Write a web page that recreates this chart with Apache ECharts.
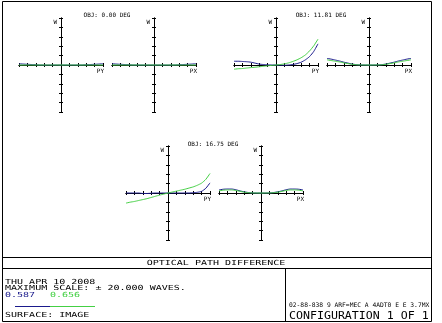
<!DOCTYPE html>
<html>
<head>
<meta charset="utf-8">
<script src="https://cdn.jsdelivr.net/npm/echarts@6/dist/echarts.min.js"></script>
<style>
html,body{margin:0;padding:0;background:#fff;}
#chart{width:442px;height:323px;}
</style>
</head>
<body>
<div id="chart"></div>
<script>
// Normalized pupil coordinate (PY / PX)
const pupil = [-1,-0.9,-0.8,-0.7,-0.6,-0.5,-0.4,-0.3,-0.2,-0.1,0,0.1,0.2,0.3,0.4,0.5,0.6,0.7,0.8,0.9,1];
const fieldTitles = ['OBJ: 0.00 DEG', 'OBJ: 11.81 DEG', 'OBJ: 16.75 DEG'];
const wavelengths = ['0.587', '0.656'];
const maxScale = 20; // waves

// OPD in waves, field 0.00 deg
const obj0_py_blue  = [0.5,0.4,0.3,0.2,0.1,0,0,0,0,0,0,0,0,0,0,0,0.1,0.2,0.3,0.4,0.5];
const obj0_py_green = [0,0,0,0,0,0,0,0,0,0,0,0,0,0,0,0,0,0,0,0,0];
const obj0_px_blue  = [0.5,0.4,0.3,0.2,0.1,0,0,0,0,0,0,0,0,0,0,0,0.1,0.2,0.3,0.4,0.5];
const obj0_px_green = [0,0,0,0,0,0,0,0,0,0,0,0,0,0,0,0,0,0,0,0,0];
// field 11.81 deg
const obj1_py_blue  = [1.6,1.6,1.5,1.4,1.2,0.8,0.4,0.2,0.1,0,0,-0.05,-0.1,0,0.2,0.6,1.2,2.2,3.6,5.8,9.0];
const obj1_py_green = [-1.8,-1.6,-1.5,-1.3,-1.1,-0.95,-0.75,-0.55,-0.35,-0.15,0,0.2,0.5,0.9,1.5,2.2,3.1,4.3,6.0,8.2,11.0];
const obj1_px_blue  = [2.8,2.5,2.1,1.7,1.2,0.8,0.4,0.15,0.05,0,0,0,0.05,0.15,0.4,0.8,1.2,1.7,2.1,2.5,2.8];
const obj1_px_green = [2.2,1.9,1.6,1.3,0.9,0.6,0.3,0.1,0.03,0,0,0,0.03,0.1,0.3,0.6,0.9,1.3,1.6,1.9,2.2];
// field 16.75 deg
const obj2_py_blue  = [0,0,0,0,-0.2,-0.2,-0.1,0,0,0,0,0,0,0,0,0,0.1,0.3,0.7,2.0,4.3];
const obj2_py_green = [-4.3,-3.9,-3.6,-3.2,-2.8,-2.4,-1.9,-1.4,-0.9,-0.45,0,0.4,0.8,1.2,1.6,2.1,2.6,3.3,4.2,5.8,8.3];
const obj2_px_blue  = [1.3,1.6,1.7,1.7,1.4,0.9,0.5,0.2,0.05,0,0,0,0.05,0.2,0.5,0.9,1.4,1.7,1.7,1.6,1.3];
const obj2_px_green = [0.9,1.2,1.3,1.3,1.1,0.7,0.35,0.15,0.03,0,0,0,0.03,0.15,0.35,0.7,1.1,1.3,1.3,1.2,0.9];

const BLUE = '#1a1a8c';
const GREEN = '#44d044';
const MONO = 'DejaVu Sans Mono';

const panels = [
  {left: 19,  top: 18,  axisName: 'PY', blue: obj0_py_blue, green: obj0_py_green},
  {left: 112, top: 18,  axisName: 'PX', blue: obj0_px_blue, green: obj0_px_green},
  {left: 234, top: 18,  axisName: 'PY', blue: obj1_py_blue, green: obj1_py_green},
  {left: 327, top: 18,  axisName: 'PX', blue: obj1_px_blue, green: obj1_px_green},
  {left: 126, top: 146, axisName: 'PY', blue: obj2_py_blue, green: obj2_py_green},
  {left: 219, top: 146, axisName: 'PX', blue: obj2_px_blue, green: obj2_px_green}
];

const grid = [], xAxis = [], yAxis = [], series = [];
const axLine = {onZero: true, lineStyle: {color: '#000', width: 1}};
panels.forEach(function (p, i) {
  grid.push({left: p.left, top: p.top, width: 84, height: 94, containLabel: false, outerBoundsMode: 'none', show: false});
  ['bottom', 'top'].forEach(function (pos, k) {
    xAxis.push({
      type: 'value', gridIndex: i, position: pos, min: -1, max: 1, interval: 0.2,
      axisLine: axLine, axisTick: {show: true, length: 2, lineStyle: {color: '#000', width: 1}},
      axisLabel: {show: false}, splitLine: {show: false},
      name: k === 0 ? p.axisName : '', nameLocation: 'end', nameGap: 1,
      nameTextStyle: {fontFamily: MONO, fontSize: 6, color: '#000', align: 'right', verticalAlign: 'top', padding: [3, 0, 0, 0]}
    });
    yAxis.push({
      type: 'value', gridIndex: i, position: k === 0 ? 'left' : 'right', min: -maxScale, max: maxScale, interval: 4,
      axisLine: axLine, axisTick: {show: true, length: 2, lineStyle: {color: '#000', width: 1}},
      axisLabel: {show: false}, splitLine: {show: false},
      name: k === 0 ? 'W' : '', nameLocation: 'end', nameGap: -1,
      nameTextStyle: {fontFamily: MONO, fontSize: 6, color: '#000', align: 'right', verticalAlign: 'top', padding: [0, 4, 0, 0]}
    });
  });
  [[p.blue, BLUE], [p.green, GREEN]].forEach(function (s) {
    series.push({
      type: 'line', xAxisIndex: 2 * i, yAxisIndex: 2 * i, showSymbol: false, symbol: 'none',
      smooth: 0.2, lineStyle: {color: s[1], width: 1}, itemStyle: {color: s[1]},
      data: pupil.map(function (x, j) { return [x, s[0][j]]; }), z: 3, silent: true, animation: false
    });
  });
});

function txt(x, y, text, size, opts) {
  opts = opts || {};
  return {
    type: 'text', x: x, y: y, scaleX: opts.sx || 1, silent: true, z: 10,
    style: {text: text, font: size + 'px "' + MONO + '"', fill: opts.fill || '#000',
            align: opts.align || 'left', verticalAlign: 'middle'}
  };
}
function ln(x1, y1, x2, y2, color) {
  return {type: 'line', silent: true, z: 10, shape: {x1: x1, y1: y1, x2: x2, y2: y2},
          style: {stroke: color || '#000', lineWidth: 1}};
}

const graphic = [
  {type: 'rect', silent: true, z: 10, shape: {x: 2.5, y: 1.5, width: 429, height: 320}, style: {fill: 'none', stroke: '#000', lineWidth: 1}},
  ln(2, 257.5, 432, 257.5),
  ln(2, 268.5, 432, 268.5),
  ln(285.5, 268, 285.5, 322),
  txt(107, 15, fieldTitles[0], 6, {align: 'center'}),
  txt(321, 15, fieldTitles[1], 6, {align: 'center'}),
  txt(213, 144, fieldTitles[2], 6, {align: 'center'}),
  txt(216, 263, 'OPTICAL PATH DIFFERENCE', 7, {align: 'center', sx: 1.43}),
  txt(5, 282, 'THU APR 10 2008', 7, {sx: 1.43}),
  txt(5, 288.5, 'MAXIMUM SCALE: \u00b1 20.000 WAVES.', 7, {sx: 1.43}),
  txt(5, 295, wavelengths[0], 7, {sx: 1.43, fill: BLUE}),
  txt(50, 295, wavelengths[1], 7, {sx: 1.43, fill: GREEN}),
  ln(15, 306.5, 50, 306.5, BLUE),
  ln(50, 306.5, 95, 306.5, GREEN),
  txt(5, 315, 'SURFACE: IMAGE', 7, {sx: 1.43}),
  txt(289, 305.5, '02-88-838 9 ARF=MEC A 4ADT0 E E 3.7MX', 6.3, {}),
  txt(289, 316.5, 'CONFIGURATION 1 OF 1', 10, {sx: 1.16})
];

const chart = echarts.init(document.getElementById('chart'), null, {renderer: 'canvas'});
chart.setOption({
  backgroundColor: '#fff',
  animation: false,
  grid: grid, xAxis: xAxis, yAxis: yAxis, series: series,
  graphic: graphic
});
</script>
</body>
</html>
